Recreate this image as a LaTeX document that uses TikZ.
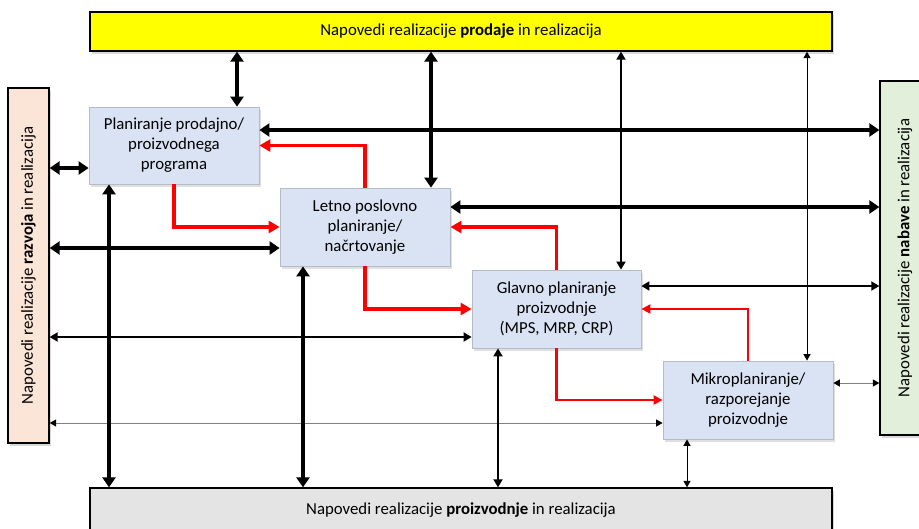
\documentclass[tikz,border=0pt]{standalone}
\usepackage{fontspec}
\setmainfont{Carlito}
\usetikzlibrary{arrows.meta,shadows}
\definecolor{boxblue}{HTML}{DAE3F3}
\definecolor{procborder}{HTML}{B4BCC8}
\definecolor{peach}{HTML}{FBE5D6}
\definecolor{lgreen}{HTML}{E2EFDA}
\definecolor{lgray}{HTML}{E4E4E4}
\definecolor{topyellow}{HTML}{FFFF00}
\definecolor{thingray}{HTML}{808080}
\begin{document}
\begin{tikzpicture}[x=1pt,y=-1pt,
  txt/.style={font=\fontsize{16.8}{20}\selectfont, text=black},
  outer/.style={txt, draw=black, line width=1.3pt, inner sep=0pt,
    drop shadow={opacity=0.3, shadow xshift=2pt, shadow yshift=-2.5pt}},
  proc/.style={txt, draw=procborder, line width=0.8pt, fill=boxblue, align=center,
    inner sep=0pt, minimum width=170pt, minimum height=78pt,
    drop shadow={opacity=0.25, shadow xshift=2pt, shadow yshift=-2.5pt}},
  thk/.style={line width=3.4pt, {Triangle[length=10pt,width=13pt]}-{Triangle[length=10pt,width=13pt]}},
  med/.style={line width=1.8pt, {Triangle[length=8pt,width=9pt]}-{Triangle[length=8pt,width=9pt]}},
  thn/.style={line width=1pt, {Triangle[length=6.5pt,width=7pt]}-{Triangle[length=6.5pt,width=7pt]}},
  thngray/.style={line width=1pt, draw=thingray, {Triangle[length=6.5pt,width=7pt,color=black]}-{Triangle[length=6.5pt,width=7pt,color=black]}},
  redthk/.style={line width=3.6pt, draw=red, -{Triangle[length=11pt,width=12pt]}},
  redmed/.style={line width=2.2pt, draw=red, -{Triangle[length=9pt,width=9pt]}}
]
\useasboundingbox (0,0) rectangle (919,528);

% outer boxes
\node[outer, fill=topyellow, minimum width=742pt, minimum height=39pt] (top) at (461,31.5)
  {Napovedi realizacije \textbf{prodaje} in realizacija};
\node[outer, fill=peach, minimum width=41pt, minimum height=355pt] (lft) at (28.5,265.5)
  {\rotatebox{90}{Napovedi realizacije \textbf{razvoja} in realizacija}};
\node[outer, fill=lgreen, minimum width=50pt, minimum height=354pt] (rgt) at (905,258)
  {\rotatebox{90}{Napovedi realizacije \textbf{nabave} in realizacija}};
\node[outer, fill=lgray, minimum width=742pt, minimum height=44pt] (bot) at (461,510)
  {Napovedi realizacije \textbf{proizvodnje} in realizacija};

% process boxes
\node[proc, minimum height=77pt] (A) at (174,145.5) {Planiranje prodajno/\\proizvodnega\\programa};
\node[proc] (B) at (365,227) {Letno poslovno\\planiranje/\\načrtovanje};
\node[proc, minimum width=169pt] (C) at (556.5,309) {Glavno planiranje\\proizvodnje\\(MPS, MRP, CRP)};
\node[proc] (D) at (748,400) {Mikroplaniranje/\\razporejanje\\proizvodnje};

% helper coordinates
\coordinate (c1) at (237,0);
\coordinate (c2) at (431,0);
\coordinate (c3) at (621,0);
\coordinate (c4) at (807,0);
\coordinate (r1) at (0,130);
\coordinate (r2) at (0,207);
\coordinate (r3) at (0,286);
\coordinate (r4) at (0,383);
\coordinate (l1) at (0,168);
\coordinate (l2) at (0,248);
\coordinate (l3) at (0,337);
\coordinate (l4) at (0,423);
\coordinate (b1) at (109,0);
\coordinate (b2) at (303,0);
\coordinate (b3) at (498,0);
\coordinate (b4) at (687,0);

% top connections
\draw[thk] (top.south -| c1) -- (A.north -| c1);
\draw[thk] (top.south -| c2) -- (B.north -| c2);
\draw[med] (top.south -| c3) -- (C.north -| c3);
\draw[thn] (top.south -| c4) -- (D.north -| c4);
% right connections
\draw[thk] (A.east |- r1) -- (rgt.west |- r1);
\draw[thk] (B.east |- r2) -- (rgt.west |- r2);
\draw[med] (C.east |- r3) -- (rgt.west |- r3);
\draw[thngray] (D.east |- r4) -- (rgt.west |- r4);
% left connections
\draw[thk] (lft.east |- l1) -- (A.west |- l1);
\draw[thk] (lft.east |- l2) -- (B.west |- l2);
\draw[med] (lft.east |- l3) -- (C.west |- l3);
\draw[thngray] (lft.east |- l4) -- (D.west |- l4);
% bottom connections
\draw[thk] (A.south -| b1) -- (bot.north -| b1);
\draw[thk] (B.south -| b2) -- (bot.north -| b2);
\draw[med] (C.south -| b3) -- (bot.north -| b3);
\draw[thn] (D.south -| b4) -- (bot.north -| b4);

% red flows
\draw[redthk] (A.south) |- (B.west);
\draw[redthk] (B.north) |- (A.east);
\draw[redthk] (B.south) |- (C.west);
\draw[redthk] (C.north) |- (B.east);
\draw[redmed] (C.south) |- (D.west);
\draw[redmed] (D.north) |- (C.east);
\end{tikzpicture}
\end{document}
